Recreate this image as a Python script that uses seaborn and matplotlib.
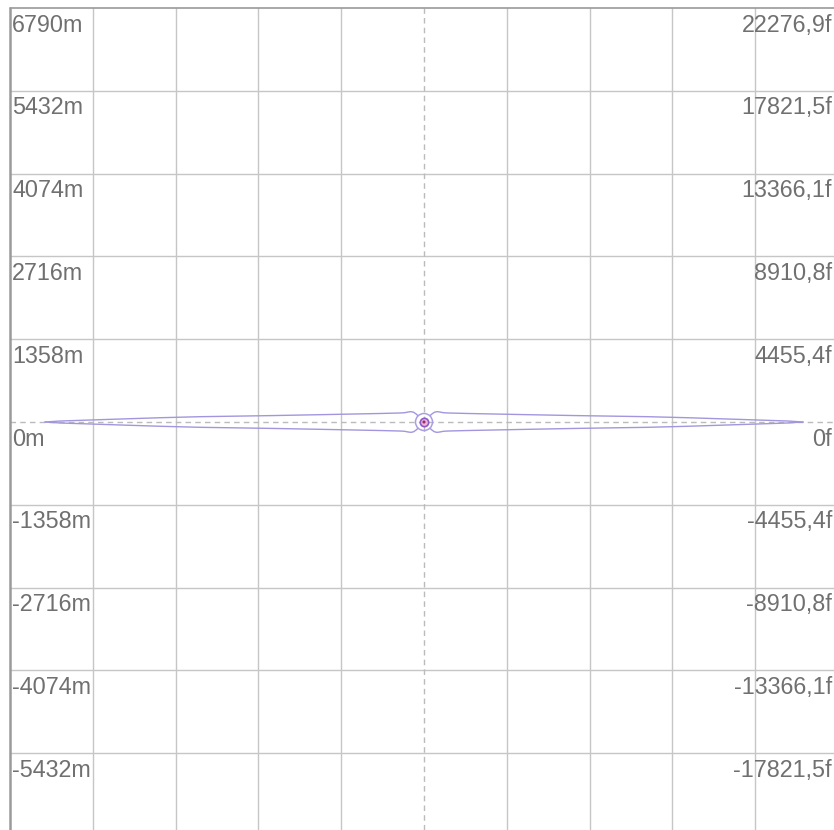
import numpy as np
import pandas as pd
import matplotlib
matplotlib.use("Agg")
import matplotlib.pyplot as plt
import seaborn as sns

# 刻度值（米 / 英尺）
metres = [6790, 5432, 4074, 2716, 1358, 0, -1358, -2716, -4074, -5432]
feet_labels = ["22276,9f", "17821,5f", "13366,1f", "8910,8f", "4455,4f", "0f",
               "-4455,4f", "-8910,8f", "-13366,1f", "-17821,5f"]
grid_x = [-5432, -4074, -2716, -1358, 1358, 2716, 4074, 5432]

# 轮廓半边（到中心的距离, 半厚度），单位米
lens_d = [6216, 5970, 5314, 4330, 3674, 2500, 1706, 700, 394, 320, 265, 215, 170, 130, 100]
lens_h = [0, 16, 38, 70, 87, 105, 120, 140, 148, 152, 163, 170, 160, 132, 105]

# 中心标记
centre_x = [0]
centre_y = [0]

sns.set_theme(style="white")
plt.rcParams['font.family'] = ['Liberation Sans', 'DejaVu Sans']

fig = plt.figure(figsize=(8.34, 8.30), dpi=100)
ax = fig.add_axes([0, 0, 1, 1])

s = 1358 / 82.8  # 米/像素
ax.set_xlim(-424 * s, 410 * s)
ax.set_ylim(-408 * s, 422 * s)

ymin = -408 * s
xmax = 410 * s

# 网格
for gx in grid_x:
    ax.plot([gx, gx], [ymin, 6790], color="#c6c6c6", lw=1, zorder=1)
for m in metres[1:]:
    if m == 0:
        continue
    ax.plot([-6790, xmax], [m, m], color="#c6c6c6", lw=1, zorder=1)
ax.plot([0, 0], [ymin, 6790], color="#bbbbbb", lw=1, ls=(0, (4, 3)), zorder=1)
ax.plot([-6790, xmax], [0, 0], color="#bbbbbb", lw=1, ls=(0, (4, 3)), zorder=1)
ax.plot([-6790, xmax], [6790, 6790], color="#9a9a9a", lw=1.2, zorder=2)
ax.plot([-6790, -6790], [ymin, 6790], color="#9a9a9a", lw=1.8, zorder=2)

# 轮廓
d = np.array(lens_d, dtype=float)
h = np.array(lens_h, dtype=float)
parts = []
for name, sx, sy in [("ur", 1, 1), ("ul", -1, 1), ("lr", 1, -1), ("ll", -1, -1)]:
    parts.append(pd.DataFrame({"x": sx * d, "y": sy * h, "part": name}))
lens = pd.concat(parts, ignore_index=True)
sns.lineplot(data=lens, x="x", y="y", units="part", estimator=None, sort=False,
             color="#a396de", lw=1.0, ax=ax, zorder=3)

# 中心圆
sns.scatterplot(x=centre_x, y=centre_y, s=150, marker="o", facecolor="none",
                edgecolor="#ab9fe2", linewidth=1.1, ax=ax, zorder=4)
sns.scatterplot(x=centre_x, y=centre_y, s=36, marker="o", color="#ecb6de",
                edgecolor="#8a5cc4", linewidth=1.2, ax=ax, zorder=5)
sns.scatterplot(x=centre_x, y=centre_y, s=5, marker="o", color="#9a2a6a",
                edgecolor="none", ax=ax, zorder=6)

# 标签
for m, fl in zip(metres, feet_labels):
    ax.annotate(f"{m}m", xy=(-6790, m), xytext=(2, -23.5), textcoords="offset pixels",
                ha="left", va="baseline", fontsize=16.8, color="#707070", zorder=7)
    ax.annotate(fl, xy=(xmax, m), xytext=(-2, -23.5), textcoords="offset pixels",
                ha="right", va="baseline", fontsize=16.8, color="#707070", zorder=7)

ax.set_xlabel("")
ax.set_ylabel("")
ax.axis("off")
fig.savefig("out.png", dpi=100)
